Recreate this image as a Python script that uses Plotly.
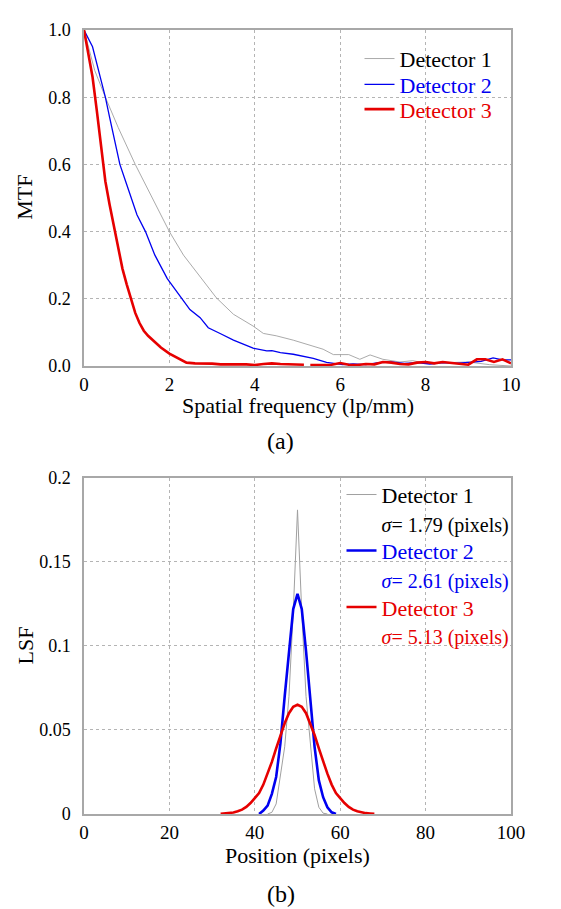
import plotly.graph_objects as go

# ---------------- data: MTF (panel a) ----------------
freq_d1 = [0, 0.25, 0.5, 0.8, 1.2, 1.6, 2.0, 2.33, 2.72, 3.1, 3.5, 3.96, 4.2, 4.5, 4.9,
           5.45, 5.6, 5.84, 6.2, 6.46, 6.7, 7.0, 7.4, 7.7, 8.0, 8.5, 9.0, 9.5, 10.0]
mtf_d1 = [1.0, 0.88, 0.80, 0.71, 0.60, 0.50, 0.40, 0.33, 0.267, 0.203, 0.154, 0.119, 0.097, 0.09, 0.077,
          0.055, 0.05, 0.034, 0.034, 0.02, 0.033, 0.02, 0.012, 0.016, 0.008, 0.01, 0.012, 0.004, 0.0]

freq_d2 = [0, 0.2, 0.4, 0.5, 0.6, 0.84, 1.0, 1.24, 1.44, 1.66, 1.95, 2.29, 2.48, 2.72, 2.91, 3.2,
           3.5, 3.96, 4.28, 4.4, 4.6, 4.9, 5.37, 5.68, 6.06, 6.3, 6.6, 6.9, 7.2, 7.5, 7.8, 8.1,
           8.4, 8.7, 9.0, 9.3, 9.58, 9.8, 10.0]
mtf_d2 = [1.0, 0.95, 0.85, 0.80, 0.74, 0.60, 0.54, 0.45, 0.40, 0.33, 0.26, 0.203, 0.168, 0.144, 0.114, 0.096,
          0.077, 0.053, 0.045, 0.046, 0.04, 0.035, 0.023, 0.011, 0.004, 0.006, 0.004, 0.01, 0.012, 0.008, 0.01, 0.006,
          0.01, 0.008, 0.012, 0.014, 0.024, 0.018, 0.018]

freq_d3 = [0, 0.1, 0.2, 0.3, 0.4, 0.5, 0.6, 0.7, 0.8, 0.9, 1.0, 1.1, 1.2, 1.3, 1.4, 1.5, 1.6, 1.8,
           2.0, 2.2, 2.4, 2.6, 2.8, 3.0, 3.2, 3.4, 3.6, 3.8, 4.0, 4.2, 4.4, 4.6, 4.8, 5.0, 5.15,
           5.22, 5.3, 5.4, 5.6, 5.8, 6.0, 6.2, 6.4, 6.6, 6.8, 7.0, 7.2, 7.4, 7.6, 7.8, 8.0, 8.2,
           8.4, 8.6, 8.8, 9.0, 9.2, 9.4, 9.6, 9.8, 10.0]
mtf_d3 = [1.0, 0.93, 0.86, 0.76, 0.65, 0.55, 0.48, 0.42, 0.35, 0.29, 0.243, 0.20, 0.158, 0.128, 0.105, 0.09, 0.078, 0.055,
          0.037, 0.024, 0.01, 0.008, 0.008, 0.007, 0.005, 0.004, 0.005, 0.005, 0.003, 0.006, 0.008, 0.006, 0.005, 0.006, 0.004,
          None, 0.003, 0.003, 0.003, 0.004, 0.009, 0.004, 0.003, 0.006, 0.005, 0.012, 0.01, 0.006, 0.005, 0.01, 0.012, 0.008,
          0.012, 0.01, 0.006, 0.004, 0.02, 0.02, 0.012, 0.02, 0.008]

# ---------------- data: LSF (panel b) ----------------
pos_d1 = [43, 44, 45, 46, 47, 48, 49, 50, 51, 52, 53, 54, 55, 56, 57]
lsf_d1 = [0.0, 0.001, 0.006, 0.022, 0.04, 0.07, 0.12, 0.181, 0.12, 0.07, 0.04, 0.015, 0.004, 0.0005, 0.0]

pos_d2 = [41, 42, 43, 44, 45, 46, 47, 48, 49, 50, 51, 52, 53, 54, 55, 56, 57, 58, 59]
lsf_d2 = [0.0, 0.002, 0.005, 0.012, 0.022, 0.042, 0.07, 0.097, 0.122, 0.131, 0.122, 0.097, 0.068, 0.04, 0.02,
          0.01, 0.004, 0.001, 0.0]

pos_d3 = list(range(32, 69))
lsf_d3 = [0.0001, 0.0003, 0.0005, 0.0009, 0.0016, 0.0026, 0.0042, 0.0065, 0.0095, 0.0125, 0.0175, 0.024, 0.031,
          0.039, 0.047, 0.054, 0.060, 0.0638, 0.065, 0.0638, 0.060, 0.054, 0.047, 0.039, 0.031, 0.024, 0.0175,
          0.0125, 0.0095, 0.0065, 0.0042, 0.0026, 0.0016, 0.0009, 0.0005, 0.0003, 0.0001]

series_names = ["Detector 1", "Detector 2", "Detector 3"]
sigmas = ["1.79", "2.61", "5.13"]
line_colors = ["#a0a0a0", "#0000f0", "#e60000"]
text_colors = ["#000000", "#0000f0", "#e60000"]

FONT = "Times New Roman, Liberation Serif, DejaVu Serif, serif"

fig = go.Figure()

mtf_x = [freq_d1, freq_d2, freq_d3]
mtf_y = [mtf_d1, mtf_d2, mtf_d3]
mtf_w = [0.9, 1.3, 2.6]
for i in range(3):
    fig.add_trace(go.Scatter(
        x=mtf_x[i], y=mtf_y[i], mode="lines",
        line=dict(color=line_colors[i], width=mtf_w[i]),
        name=f"<span style='color:{text_colors[i]}'>{series_names[i]}</span>",
        xaxis="x", yaxis="y", legend=("legend" if i == 0 else f"legend{i + 1}"), connectgaps=False))

lsf_x = [pos_d1, pos_d2, pos_d3]
lsf_y = [lsf_d1, lsf_d2, lsf_d3]
lsf_w = [1.0, 2.6, 2.6]
for i in range(3):
    fig.add_trace(go.Scatter(
        x=lsf_x[i], y=lsf_y[i], mode="lines",
        line=dict(color=line_colors[i], width=lsf_w[i]),
        name=(f"<span style='color:{text_colors[i]}'>{series_names[i]}</span><br>"
              f"<span style='color:{text_colors[i]};font-size:20px'><i>σ</i>= {sigmas[i]} (pixels)</span>"),
        xaxis="x2", yaxis="y2", legend=f"legend{i + 4}"))

axis_common = dict(
    showline=True, mirror=True, linecolor="#a8a8a8", linewidth=1.5,
    showgrid=True, gridcolor="#b4b4b4", griddash="3px,3px", gridwidth=1,
    zeroline=False,
)
xtick_font = dict(family=FONT, size=19, color="black")
ytick_font = dict(family=FONT, size=18, color="black")

# plot area occupies page px x 84..511 and y 23..814 (figure is offset 8px by the page margin)
def px_to_paper_x(px):
    return (px - 84) / 427.0

def px_to_paper_y(py):
    return (814 - py) / 791.0

legend_font = dict(family=FONT, size=22, color="black")
top_rows = [52, 78, 103]
bot_rows = [506.5, 563, 620]
legends = {}
for i in range(3):
    key = "legend" if i == 0 else f"legend{i + 1}"
    legends[key] = dict(x=px_to_paper_x(359.5), y=px_to_paper_y(top_rows[i]), xanchor="left", yanchor="middle",
                        bgcolor="rgba(0,0,0,0)", font=legend_font, itemwidth=30)
for i in range(3):
    legends[f"legend{i + 4}"] = dict(x=px_to_paper_x(341.5), y=px_to_paper_y(bot_rows[i]), xanchor="left",
                                      yanchor="middle", valign="top",
                                      bgcolor="rgba(0,0,0,0)", font=legend_font, itemwidth=30)

fig.update_layout(
    width=553, height=901,
    margin=dict(l=76, r=50, t=15, b=95),
    paper_bgcolor="white", plot_bgcolor="white",
    font=dict(family=FONT, color="black"),
    xaxis=dict(domain=[0, 1], anchor="y", range=[0, 10], dtick=2, tickfont=xtick_font,
               ticks="outside", ticklen=0, tickcolor="rgba(0,0,0,0)", **axis_common),
    yaxis=dict(domain=[0.5714, 1], anchor="x", range=[0, 1], dtick=0.2, tickformat=".1f", tickfont=ytick_font,
               ticks="outside", ticklen=8, tickcolor="rgba(0,0,0,0)", **axis_common),
    xaxis2=dict(domain=[0, 1], anchor="y2", range=[0, 100], dtick=20, tickfont=xtick_font,
                ticks="outside", ticklen=0, tickcolor="rgba(0,0,0,0)", **axis_common),
    yaxis2=dict(domain=[0, 0.4286], anchor="x2", range=[0, 0.2], tickfont=ytick_font,
                tickvals=[0, 0.05, 0.1, 0.15, 0.2], ticktext=["0", "0.05", "0.1", "0.15", "0.2"],
                ticks="outside", ticklen=8, tickcolor="rgba(0,0,0,0)", **axis_common),
    showlegend=True,
    **legends,
)

ann = dict(xref="paper", yref="paper", showarrow=False, font=dict(family=FONT, size=22, color="black"))
fig.add_annotation(text="MTF", x=-0.138, y=0.786, textangle=-90, xanchor="center", yanchor="middle", **ann)
fig.add_annotation(text="LSF", x=-0.138, y=0.215, textangle=-90, xanchor="center", yanchor="middle", **ann)
fig.add_annotation(text="Spatial frequency (lp/mm)", x=0.5, y=px_to_paper_y(402), xanchor="center", yanchor="middle", **ann)
fig.add_annotation(text="Position (pixels)", x=0.5, y=px_to_paper_y(856), xanchor="center", yanchor="middle", **ann)
ann2 = dict(ann)
ann2["font"] = dict(family=FONT, size=24, color="black")
fig.add_annotation(text="(a)", x=0.461, y=px_to_paper_y(438), xanchor="center", yanchor="middle", **ann2)
fig.add_annotation(text="(b)", x=0.461, y=px_to_paper_y(895), xanchor="center", yanchor="middle", **ann2)

fig.write_html("out.html")
